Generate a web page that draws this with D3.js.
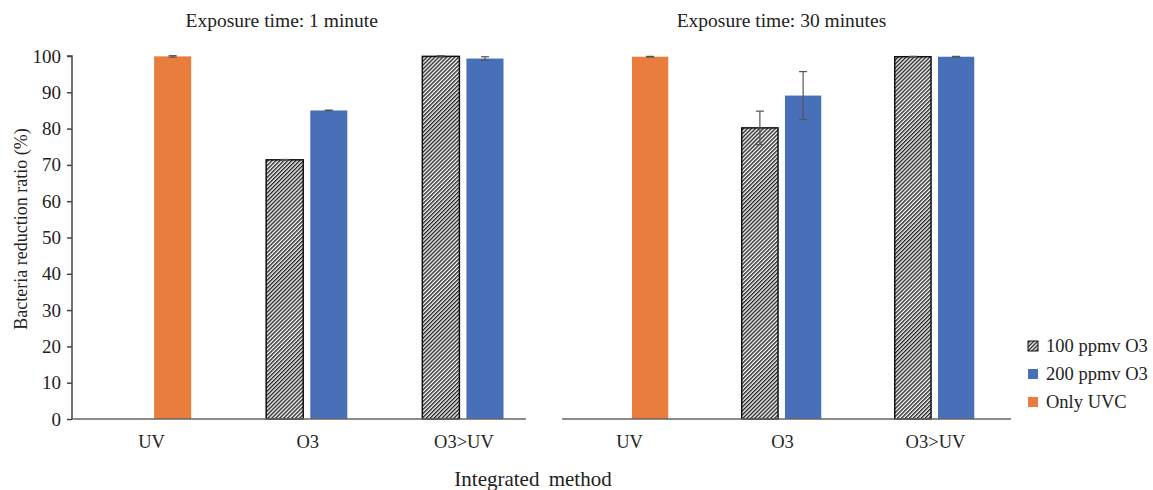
<!DOCTYPE html>
<html><head><meta charset="utf-8">
<script src="https://cdn.jsdelivr.net/npm/d3@7"></script>
<style>body{margin:0;background:#fff}svg{display:block}svg text{font-family:'Liberation Serif','Times New Roman',Times,serif !important;fill:#222}</style>
</head><body><svg id="c" width="1153" height="490" font-family="Liberation Serif, serif"></svg>
<script>
// ---- data ----
const categories = ["UV", "O3", "O3>UV"];
const panelTitles = ["Exposure time: 1 minute", "Exposure time: 30 minutes"];
const seriesNames = ["100 ppmv O3", "200 ppmv O3", "Only UVC"];
const yTicks = [0,10,20,30,40,50,60,70,80,90,100];
// 1 minute
const ppm100_1min = [null, 71.4, 99.9];
const ppm200_1min = [null, 85.0, 99.3];
const uvc_1min    = [99.9, null, null];
const err100_1min = [null, 0.1, 0.2];
const err200_1min = [null, 0.1, 0.5];
const errUvc_1min = [0.2, null, null];
// 30 minutes
const ppm100_30min = [null, 80.2, 99.8];
const ppm200_30min = [null, 89.1, 99.8];
const uvc_30min    = [99.8, null, null];
const err100_30min = [null, 4.6, 0.1];
const err200_30min = [null, 6.6, 0.1];
const errUvc_30min = [0.1, null, null];

const colors = {blue:"#4870B8", orange:"#E87D3E"};
const svg = d3.select("#c");
const defs = svg.append("defs");
const pat = defs.append("pattern").attr("id","hatch").attr("patternUnits","userSpaceOnUse")
  .attr("width",2.8).attr("height",2.8).attr("patternTransform","rotate(45)");
pat.append("rect").attr("width",2.8).attr("height",2.8).attr("fill","#fff");
pat.append("rect").attr("width",1.4).attr("height",2.8).attr("fill","#222");

const y = d3.scaleLinear().domain([0,100]).range([419,56]);

const panels = [
  {title: panelTitles[0], range:[72.5,541], axisExt:[72,526], a:ppm100_1min, b:ppm200_1min, u:uvc_1min, ea:err100_1min, eb:err200_1min, eu:errUvc_1min, yAxis:true},
  {title: panelTitles[1], range:[552,1011], axisExt:[562,1011], a:ppm100_30min, b:ppm200_30min, u:uvc_30min, ea:err100_30min, eb:err200_30min, eu:errUvc_30min, yAxis:false}
];

panels.forEach(p => {
  const x0 = d3.scaleBand().domain(categories).range(p.range).padding(0);
  const x1 = d3.scaleBand().domain(["s0","s1"]).range([0, x0.bandwidth()]).paddingInner(0.16).paddingOuter(0.85);
  const g = svg.append("g");
  const bars = [];
  categories.forEach((c,i) => {
    if (p.a[i] != null) bars.push({c, slot:"s0", v:p.a[i], e:p.ea[i], fill:"url(#hatch)", stroke:"#111"});
    if (p.b[i] != null) bars.push({c, slot:"s1", v:p.b[i], e:p.eb[i], fill:colors.blue, stroke:"none"});
    if (p.u[i] != null) bars.push({c, slot:"s1", v:p.u[i], e:p.eu[i], fill:colors.orange, stroke:"none"});
  });
  g.selectAll("rect.bar").data(bars).join("rect").attr("class","bar")
    .attr("x", d => x0(d.c) + x1(d.slot)).attr("width", x1.bandwidth())
    .attr("y", d => y(d.v)).attr("height", d => y(0) - y(d.v))
    .attr("fill", d => d.fill).attr("stroke", d => d.stroke).attr("stroke-width", 1.5);
  // error bars
  const eb = g.selectAll("g.err").data(bars.filter(d => d.e != null)).join("g").attr("class","err")
    .attr("stroke","#555").attr("stroke-width",1.2);
  const cx = d => x0(d.c) + x1(d.slot) + x1.bandwidth()/2;
  eb.append("line").attr("x1",cx).attr("x2",cx).attr("y1",d=>y(d.v+d.e)).attr("y2",d=>y(d.v-d.e));
  eb.append("line").attr("x1",d=>cx(d)-4).attr("x2",d=>cx(d)+4).attr("y1",d=>y(d.v+d.e)).attr("y2",d=>y(d.v+d.e));
  eb.append("line").attr("x1",d=>cx(d)-4).attr("x2",d=>cx(d)+4).attr("y1",d=>y(d.v-d.e)).attr("y2",d=>y(d.v-d.e));
  // x axis line
  g.append("line").attr("x1",p.axisExt[0]).attr("x2",p.axisExt[1]).attr("y1",y(0)).attr("y2",y(0))
    .attr("stroke","#666").attr("stroke-width",1.5);
  // category labels
  g.selectAll("text.cat").data(categories).join("text").attr("class","cat")
    .attr("x", c => x0(c) + x0.bandwidth()/2 + 1)
    .attr("y", 448).attr("text-anchor","middle").attr("font-size",18.5).text(c => c);
  // title
  const mid = (p.range[0]+p.range[1])/2;
  g.append("text").attr("x", mid + (p.yAxis? -25 : 0)).attr("y", 27).attr("text-anchor","middle")
    .attr("font-size",19.5).text(p.title);
  if (p.yAxis) {
    const ax = d3.axisLeft(y).tickValues(yTicks).tickSize(5).tickPadding(6);
    const ag = svg.append("g").attr("transform",`translate(${p.axisExt[0]},0)`).call(ax);
    ag.attr("font-family", null).attr("font-size", 19);
    ag.select(".domain").attr("stroke","#444").attr("stroke-width",1.5).attr("d",`M-5,${y(100)}H0V${y(0)}`);
    ag.selectAll(".tick line").attr("stroke","#444").attr("stroke-width",1.5);
    ag.selectAll("text").attr("font-size",19).attr("fill","#222");
  }
});

// axis titles
svg.append("text").attr("transform","translate(27,229) rotate(-90)").attr("text-anchor","middle")
  .attr("font-size",18).text("Bacteria reduction ratio (%)");
svg.append("text").attr("x",533).attr("y",486).attr("text-anchor","middle").attr("font-size",21)
  .attr("word-spacing","4px").text("Integrated method");

// legend
const legFills = ["url(#hatch)", colors.blue, colors.orange];
const lg = svg.append("g").selectAll("g").data(seriesNames).join("g")
  .attr("transform",(d,i)=>`translate(1028,${346 + i*28})`);
lg.append("rect").attr("x",0).attr("y",-5).attr("width",10).attr("height",10)
  .attr("fill",(d,i)=>legFills[i]).attr("stroke",(d,i)=> i===0 ? "#111" : "none").attr("stroke-width",1);
lg.append("text").attr("x",18).attr("y",6).attr("font-size",18.5).text(d=>d);
</script></body></html>
